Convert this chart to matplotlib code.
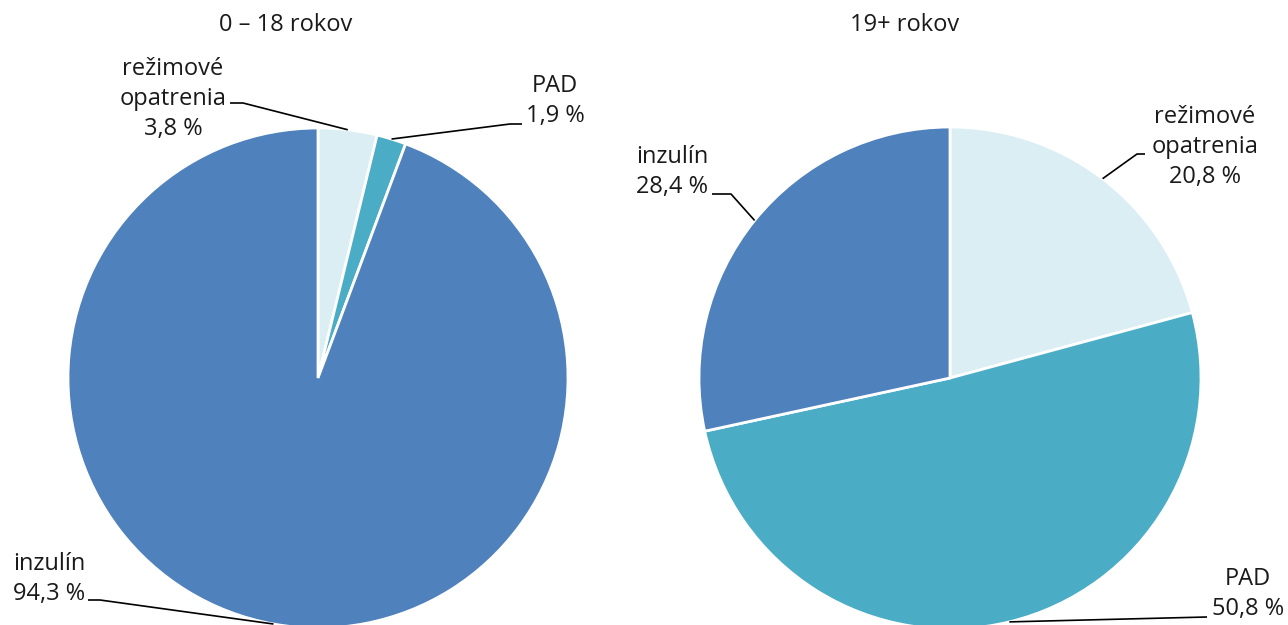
import numpy as np
import matplotlib
matplotlib.use("Agg")
import matplotlib.pyplot as plt

plt.rcParams['font.family'] = ['Open Sans', 'DejaVu Sans']

categories = ["režimové\nopatrenia", "PAD", "inzulín"]
values_child = [3.8, 1.9, 94.3]
values_adult = [20.8, 50.8, 28.4]
titles = ["0 – 18 rokov", "19+ rokov"]
colors = ["#DAEEF3", "#4BACC6", "#4F81BD"]

W, H = 1288, 625
fig = plt.figure(figsize=(W / 100, H / 100), dpi=100)
ax = fig.add_axes([0, 0, 1, 1])

pies = [
    dict(vals=values_child, c=(318, 378), r=250, title=titles[0], tpos=(286, 25),
         labels=[((173, 99), [(230, 103), (243, 103)]),
                 ((555, 101), [(522, 124), (510, 124)]),
                 ((49, 579), [(88, 600), (100, 600)])]),
    dict(vals=values_adult, c=(950, 378), r=251, title=titles[1], tpos=(905, 25),
         labels=[((1205, 147), [(1145, 154), (1137, 154)]),
                 ((1248, 594), [(1207, 617)]),
                 ((672, 172), [(712, 194), (731, 194)])]),
]

fmt = lambda v: f"{v:.1f}".replace(".", ",") + " %"
FS = 17

for p in pies:
    cx, cy = p["c"]
    ax.pie(p["vals"], colors=colors, center=(cx, cy), radius=p["r"],
           startangle=-90, counterclock=True,
           wedgeprops=dict(edgecolor="white", linewidth=2))
    ax.text(p["tpos"][0], p["tpos"][1], p["title"], ha="center", va="center",
            fontsize=FS, color="#1a1a1a")
    tot = sum(p["vals"])
    cum = 0
    for v, cat, (tp, elbow) in zip(p["vals"], categories, p["labels"]):
        mid = cum + v / 2
        cum += v
        ang = np.deg2rad(-90 + mid / tot * 360)
        ex, ey = cx + p["r"] * np.cos(ang), cy + p["r"] * np.sin(ang)
        xs = [e[0] for e in elbow] + [ex]
        ys = [e[1] for e in elbow] + [ey]
        ax.plot(xs, ys, color="black", linewidth=1.2, solid_capstyle="butt")
        ax.text(tp[0], tp[1], cat + "\n" + fmt(v), ha="center", va="center",
                multialignment="center", fontsize=FS, linespacing=1.33,
                color="#1a1a1a")

ax.set_xlim(0, W)
ax.set_ylim(H, 0)
ax.set_aspect("auto")
ax.axis("off")
fig.savefig("out.png", dpi=100)
